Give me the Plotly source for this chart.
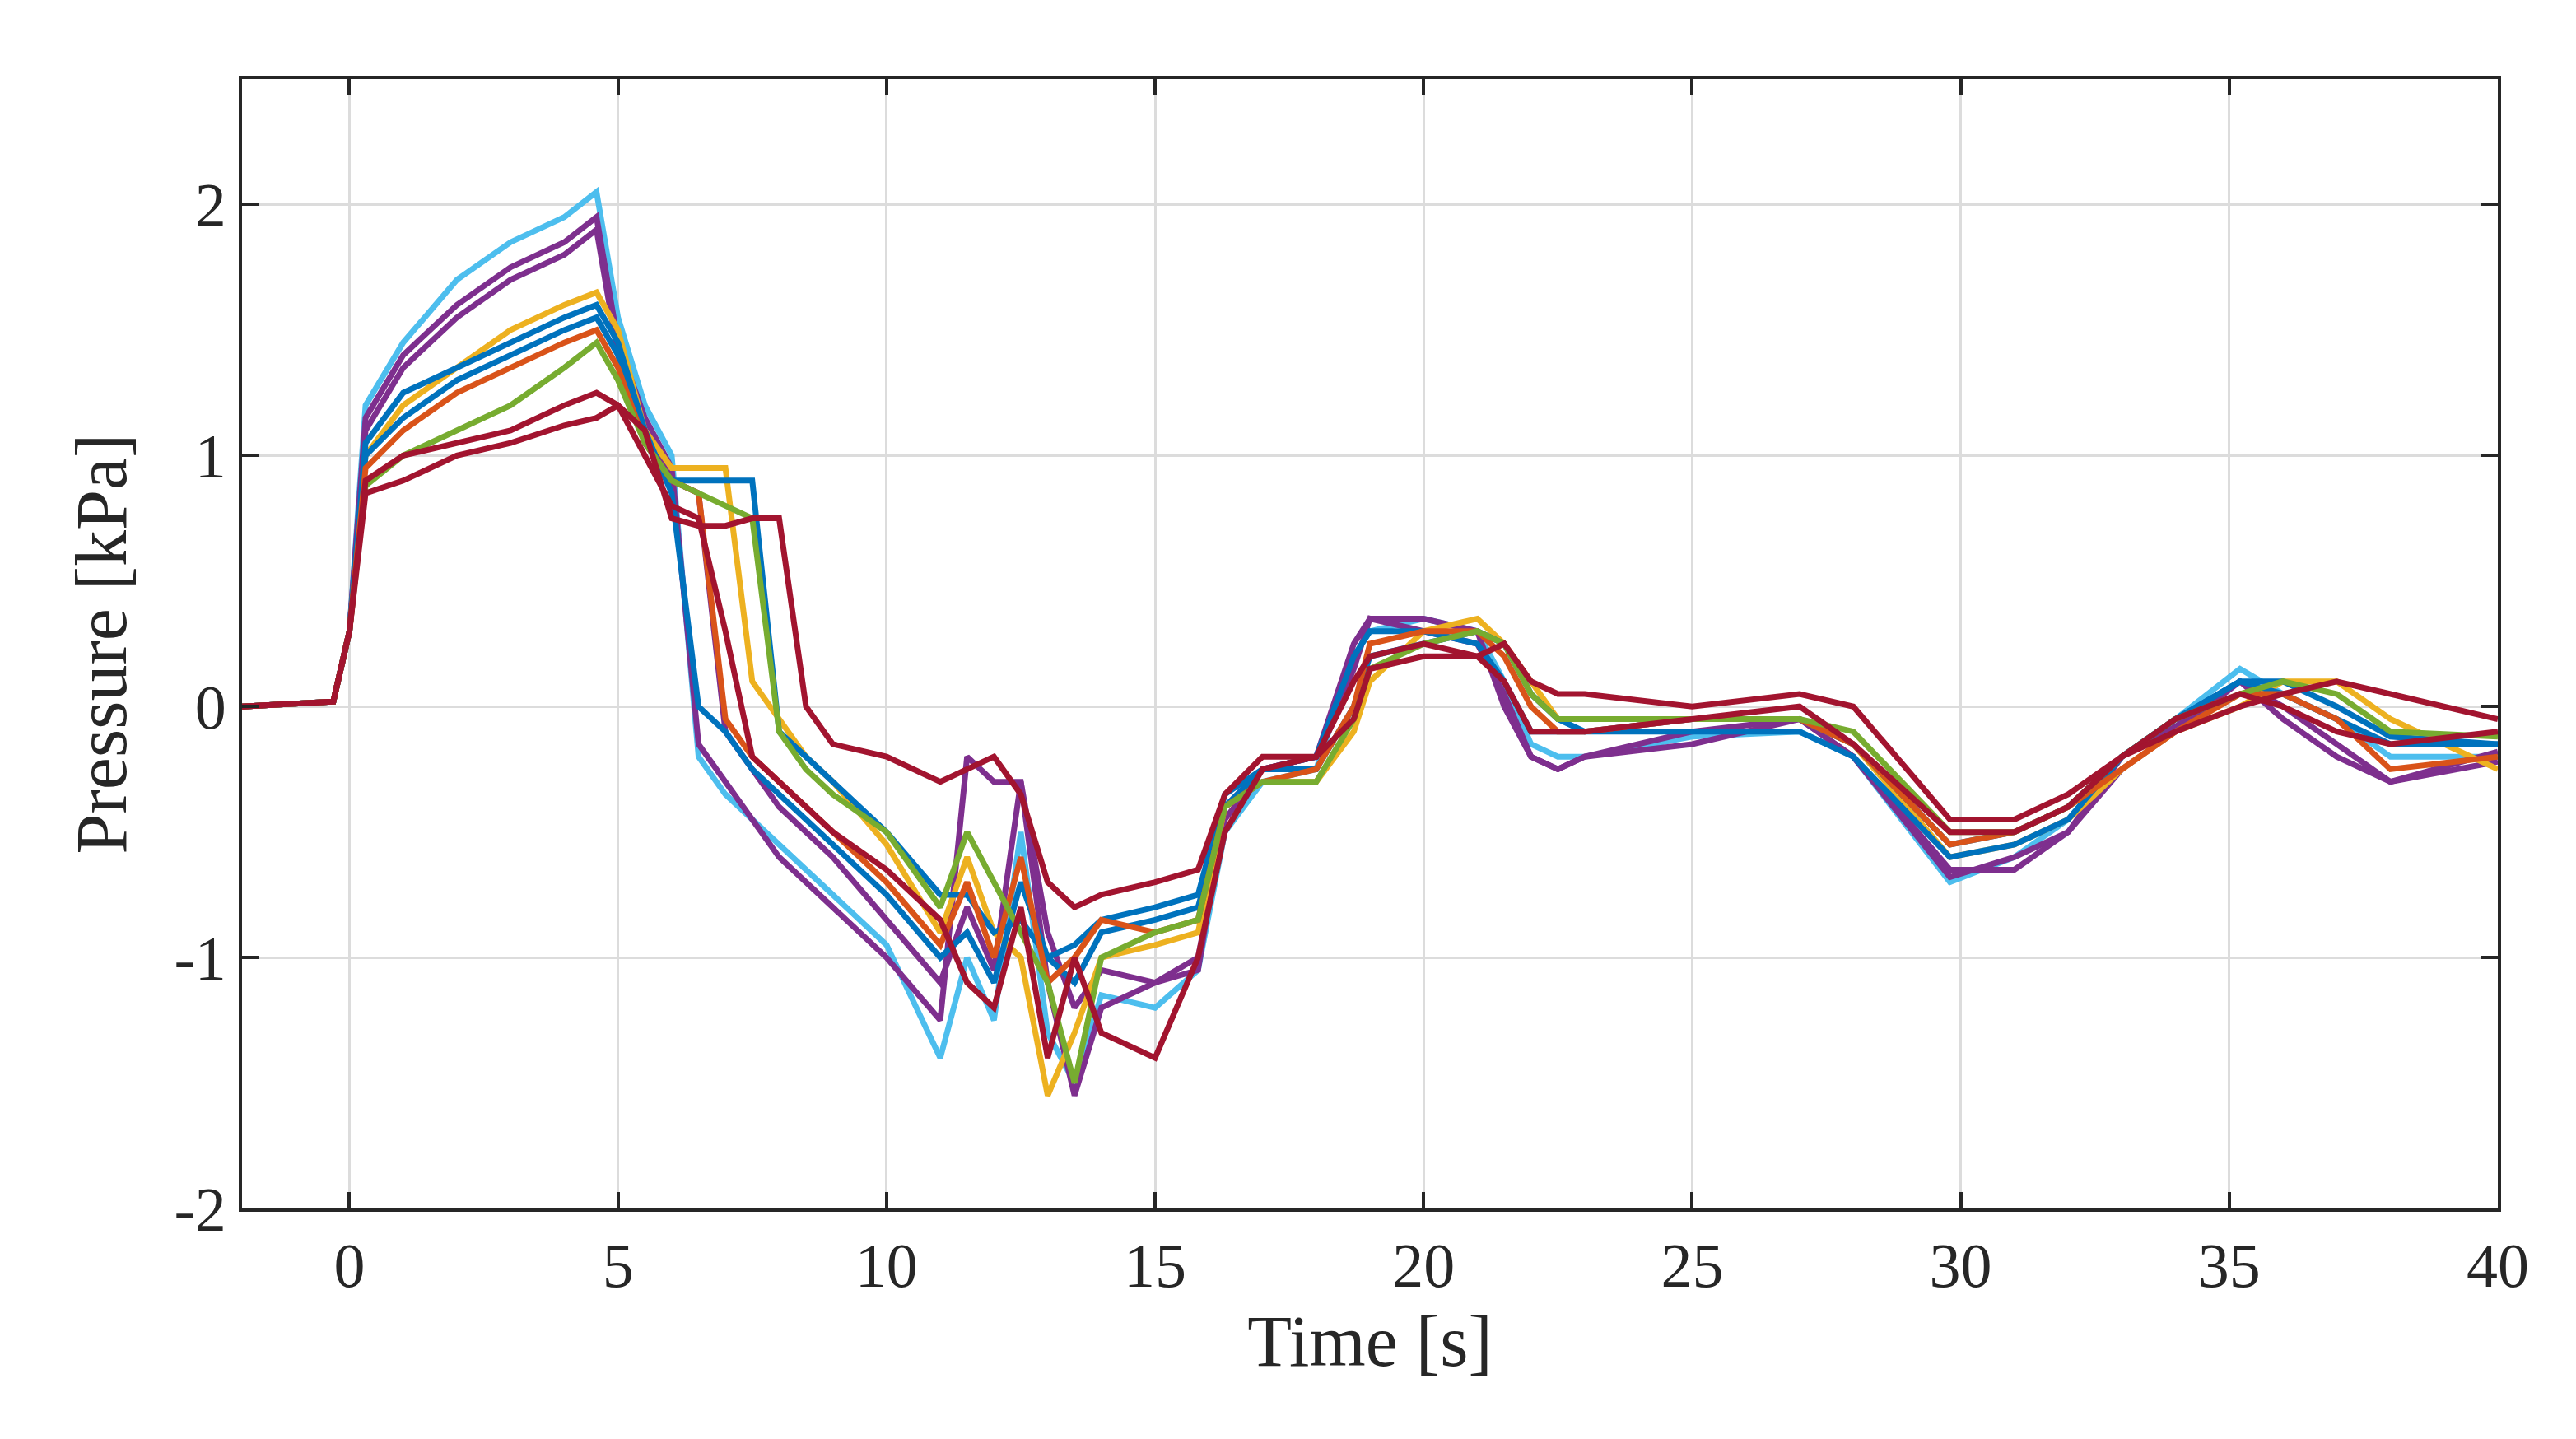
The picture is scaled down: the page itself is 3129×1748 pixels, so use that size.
import plotly.graph_objects as go

T = [-2,-0.3,0,0.3,1, 2,3,4,4.6,5, 5.5,6,6.5,7,7.5, 8,8.5,9,10,11, 11.5,12,12.5,13,13.5,
     14,15,15.8,16.3,17, 18,18.7,19,20,21, 21.5,22,22.5,23,25, 27,28,29.8,31,32, 33,34,35.2,36,37, 38,40]

s1 = [0,0.02,0.3,1.2,1.45, 1.7,1.85,1.95,2.05,1.55, 1.2,1.0,-0.2,-0.35,-0.45, -0.55,-0.65,-0.75,-0.95,-1.4,
      -1.0,-1.25,-0.5,-1.3,-1.5, -1.15,-1.2,-1.05,-0.5,-0.3, -0.25,0.2,0.3,0.35,0.3, 0.1,-0.15,-0.2,-0.2,-0.12,
      -0.1,-0.2,-0.7,-0.6,-0.45, -0.2,-0.05,0.15,0.05,-0.05, -0.2,-0.2]
s2 = [0,0.02,0.3,1.15,1.4, 1.6,1.75,1.85,1.95,1.45, 1.15,0.95,-0.15,-0.3,-0.45, -0.6,-0.7,-0.8,-1.0,-1.25,
      -0.2,-0.3,-0.3,-1.1,-1.55, -1.2,-1.1,-1.0,-0.45,-0.25, -0.2,0.15,0.35,0.3,0.25, 0.05,-0.2,-0.25,-0.2,-0.1,
      -0.05,-0.2,-0.65,-0.65,-0.5, -0.25,-0.1,0.1,0.0,-0.15, -0.3,-0.18]
s3 = [0,0.02,0.3,0.85,0.9, 1.0,1.05,1.12,1.15,1.2, 1.1,0.75,0.72,0.72,0.75, 0.75,0.0,-0.15,-0.2,-0.3,
      -0.25,-0.2,-0.35,-0.7,-0.8, -0.75,-0.7,-0.65,-0.35,-0.2, -0.2,-0.05,0.15,0.2,0.2, 0.25,0.1,0.05,0.05,0.0,
      0.05,0.0,-0.45,-0.45,-0.35, -0.2,-0.1,0.0,0.05,0.1, 0.05,-0.05]
s4 = [0,0.02,0.3,1.0,1.2, 1.35,1.5,1.6,1.65,1.5, 1.1,0.95,0.95,0.95,0.1, -0.05,-0.2,-0.3,-0.55,-0.9,
      -0.6,-0.9,-1.0,-1.55,-1.3, -1.0,-0.95,-0.9,-0.4,-0.3, -0.3,-0.1,0.1,0.3,0.35, 0.25,0.1,-0.05,-0.05,-0.05,
      -0.05,-0.15,-0.6,-0.55,-0.45, -0.25,-0.1,0.0,0.1,0.1, -0.05,-0.25]
s5 = [0,0.02,0.3,1.05,1.25, 1.35,1.45,1.55,1.6,1.45, 1.1,0.85,0.0,-0.1,-0.25, -0.35,-0.45,-0.55,-0.75,-1.0,
      -0.9,-1.1,-0.7,-1.0,-1.1, -0.9,-0.85,-0.8,-0.4,-0.25, -0.2,0.2,0.3,0.3,0.25, 0.1,-0.1,-0.1,-0.1,-0.1,
      -0.1,-0.2,-0.6,-0.55,-0.45, -0.2,-0.05,0.1,0.05,-0.05, -0.15,-0.15]
s6 = [0,0.02,0.3,0.95,1.1, 1.25,1.35,1.45,1.5,1.35, 1.05,0.9,0.85,-0.05,-0.2, -0.3,-0.4,-0.5,-0.7,-0.95,
      -0.7,-1.0,-0.6,-1.1,-1.0, -0.85,-0.9,-0.85,-0.4,-0.3, -0.25,0.0,0.25,0.3,0.3, 0.2,0.0,-0.1,-0.1,-0.05,
      -0.05,-0.15,-0.55,-0.5,-0.4, -0.25,-0.1,0.05,0.05,-0.05, -0.25,-0.2]
s7 = [0,0.02,0.3,0.88,1.0, 1.1,1.2,1.35,1.45,1.3, 1.05,0.9,0.85,0.8,0.75, -0.1,-0.25,-0.35,-0.5,-0.8,
      -0.5,-0.7,-0.9,-1.1,-1.5, -1.0,-0.9,-0.85,-0.4,-0.3, -0.3,-0.05,0.15,0.25,0.3, 0.25,0.05,-0.05,-0.05,-0.05,
      -0.05,-0.1,-0.5,-0.5,-0.4, -0.2,-0.05,0.05,0.1,0.05, -0.1,-0.12]
s8 = [0,0.02,0.3,0.9,1.0, 1.05,1.1,1.2,1.25,1.2, 1.0,0.8,0.75,0.3,-0.2, -0.3,-0.4,-0.5,-0.65,-0.85,
      -1.1,-1.2,-0.8,-1.4,-1.0, -1.3,-1.4,-1.0,-0.5,-0.25, -0.2,0.1,0.2,0.25,0.2, 0.1,-0.1,-0.1,-0.1,-0.05,
      0.0,-0.15,-0.5,-0.5,-0.4, -0.2,-0.05,0.05,0.0,-0.1, -0.15,-0.1]
s9 = [0,0.02,0.3,1.1,1.35, 1.55,1.7,1.8,1.9,1.4, 1.1,0.9,0.85,-0.1,-0.25, -0.4,-0.5,-0.6,-0.85,-1.1,
      -0.8,-1.05,-0.3,-0.9,-1.2, -1.05,-1.1,-1.05,-0.4,-0.25, -0.2,0.25,0.35,0.35,0.3, 0.0,-0.2,-0.25,-0.2,-0.15,
      -0.05,-0.2,-0.68,-0.6,-0.5, -0.2,-0.08,0.1,-0.05,-0.2, -0.3,-0.22]
s10 = [0,0.02,0.3,1.0,1.15, 1.3,1.4,1.5,1.55,1.4, 1.05,0.9,0.9,0.9,0.9, -0.1,-0.2,-0.3,-0.5,-0.75,
       -0.75,-0.9,-0.85,-1.0,-0.95, -0.85,-0.8,-0.75,-0.35,-0.25, -0.25,0.0,0.2,0.25,0.3, 0.25,0.05,-0.05,-0.1,-0.05,
       -0.05,-0.15,-0.55,-0.5,-0.4, -0.2,-0.05,0.1,0.1,0.0, -0.12,-0.15]

series = [s1, s9, s2, s4, s5, s10, s6, s7, s8, s3]
colors = ["#4DBEEE", "#7E2F8E", "#7E2F8E", "#EDB120", "#0072BD", "#0072BD",
          "#D95319", "#77AC30", "#A2142F", "#A2142F"]

x_ticks = [0, 5, 10, 15, 20, 25, 30, 35, 40]
y_ticks = [-2, -1, 0, 1, 2]
y_labels = ["-2", "-1", "0", "1", "2"]

fig = go.Figure()
for s, c in zip(series, colors):
    fig.add_trace(go.Scatter(x=T, y=s, mode="lines", line=dict(color=c, width=7), showlegend=False))

font = dict(family="Liberation Serif", size=76, color="#262626")
tfont = dict(family="Liberation Serif", size=88, color="#262626")
axis = dict(showline=True, linecolor="#262626", linewidth=4, mirror="ticks",
            ticks="inside", ticklen=20, tickwidth=4, tickcolor="#262626",
            showgrid=True, gridcolor="#dcdcdc", gridwidth=3, zeroline=False,
            tickfont=font)
fig.update_layout(
    width=3129, height=1748, paper_bgcolor="white", plot_bgcolor="white",
    margin=dict(l=286, r=103, t=88, b=288), font=font,
    xaxis=dict(range=[-2, 40], tickvals=x_ticks,
               title=dict(text="Time [s]", font=tfont, standoff=20), **axis),
    yaxis=dict(range=[-2, 2.5], tickvals=y_ticks, ticktext=y_labels,
               title=dict(text="Pressure [kPa]", font=tfont, standoff=30), **axis),
)
fig.write_html("out.html")
